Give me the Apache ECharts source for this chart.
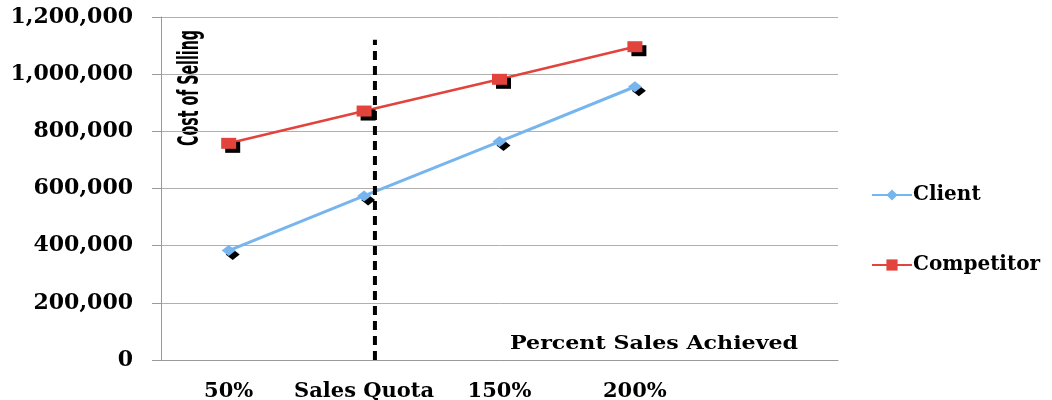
<!DOCTYPE html>
<html>
<head>
<meta charset="utf-8">
<script src="https://cdn.jsdelivr.net/npm/echarts@6/dist/echarts.min.js"></script>
<style>
html,body{margin:0;padding:0;background:#fff;}
#chart{width:1052px;height:400px;}
</style>
</head>
<body>
<div id="chart"></div>
<script>
// percent of quota achieved
var categories = ['50%', 'Sales Quota', '150%', '200%', ''];
var client = [383000, 574000, 764000, 956000];
var competitor = [758000, 871000, 982000, 1096000];
// dashed quota marker, on a hidden 0..5 value axis
var quotaX = [1.58, 1.58];
var quotaY = [0, 1120000];

var serif = '"DejaVu Serif", serif';
var shadow = {shadowColor: '#000', shadowBlur: 0, shadowOffsetX: 4, shadowOffsetY: 4};

// squeeze the condensed y title to its length in the picture
var yTitleFont = 'bold 28px "DejaVu Sans Condensed", sans-serif';
var ctx = document.createElement('canvas').getContext('2d');
ctx.font = yTitleFont;
var yTitleScale = 116 / ctx.measureText('Cost of Selling').width;

var chart = echarts.init(document.getElementById('chart'));
var option = {
    animation: false,
    backgroundColor: '#fff',
    grid: {left: 161, right: 214, top: 17, bottom: 40, outerBoundsMode: 'none'},
    graphic: [{
        type: 'text',
        left: 177, top: 30,
        rotation: Math.PI / 2,
        scaleX: yTitleScale,
        style: {
            text: 'Cost of Selling',
            font: yTitleFont,
            fill: '#000'
        }
    }, {
        type: 'text',
        left: 510, top: 335,
        scaleX: 1.23,
        style: {
            text: 'Percent Sales Achieved',
            font: 'bold 18px "DejaVu Serif", serif',
            fill: '#000'
        }
    }],
    legend: {
        orient: 'vertical',
        left: 866, top: 180,
        itemGap: 50,
        itemWidth: 40, itemHeight: 14,
        data: ['Client', 'Competitor'],
        textStyle: {fontFamily: serif, fontWeight: 'bold', fontSize: 20, color: '#000', padding: [0, 0, 0, -4]}
    },
    xAxis: [{
        type: 'category',
        data: categories,
        boundaryGap: true,
        axisLine: {lineStyle: {color: '#999'}},
        axisTick: {length: 6, lineStyle: {color: '#999'}},
        axisLabel: {margin: 21, color: '#000', fontFamily: serif, fontWeight: 'bold', fontSize: 21, interval: 0}
    }, {
        type: 'value',
        min: 0, max: 5,
        show: false
    }],
    yAxis: {
        type: 'value',
        min: 0, max: 1200000, interval: 200000,
        axisLine: {show: true, lineStyle: {color: '#999'}},
        axisTick: {show: true, length: 9, lineStyle: {color: '#999'}},
        axisLabel: {margin: 28, color: '#000', fontFamily: serif, fontWeight: 'bold', fontSize: 22, padding: [4, 0, 0, 0]},
        splitLine: {lineStyle: {color: '#b0b0b0'}}
    },
    series: [{
        name: 'Client',
        type: 'line',
        data: client,
        symbol: 'diamond',
        symbolSize: [14, 11],
        lineStyle: {color: '#76B5EE', width: 3},
        itemStyle: Object.assign({color: '#76B5EE'}, shadow)
    }, {
        name: 'Competitor',
        type: 'line',
        data: competitor,
        symbol: 'rect',
        symbolSize: [15, 11],
        lineStyle: {color: '#E2433D', width: 2.5},
        itemStyle: Object.assign({color: '#E2433D'}, shadow)
    }, {
        name: 'quota',
        type: 'line',
        xAxisIndex: 1,
        data: [[quotaX[0], quotaY[0]], [quotaX[1], quotaY[1]]],
        showSymbol: false,
        symbol: 'none',
        silent: true,
        lineStyle: {color: '#000', width: 4, type: [9, 6]}
    }]
};
chart.setOption(option);
</script>
</body>
</html>
